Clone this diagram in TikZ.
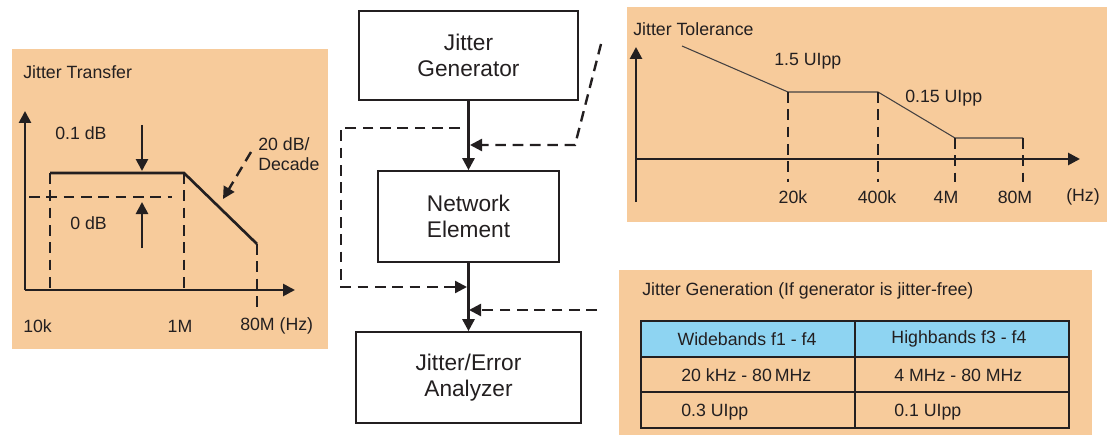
\documentclass[tikz,border=0pt]{standalone}
\usepackage{fontspec}
\setmainfont{Liberation Sans}
\usetikzlibrary{arrows.meta}
\definecolor{panel}{HTML}{F7CB9B}
\definecolor{hdr}{HTML}{8ED4F2}
\definecolor{ink}{HTML}{231F20}
\begin{document}
\begin{tikzpicture}[x=0.75pt,y=-0.75pt,
  tip/.style={-{Triangle[length=9pt,width=9pt]}},
  axis/.style={draw=ink,line width=2pt,tip},
  thk/.style={draw=ink,line width=2pt},
  thn/.style={draw=ink!85,line width=0.8pt},
  dashline/.style={draw=ink,line width=1.8pt,dash pattern=on 8pt off 5pt},
  lbl/.style={font=\fontsize{13.3}{15}\selectfont,inner sep=0pt,text=ink},
  block/.style={draw=ink,line width=1.5pt,fill=white,align=center,
    font=\fontsize{17}{19}\selectfont,text=ink,inner sep=0pt},
  cell/.style={draw=ink,line width=1pt}]
\useasboundingbox (0,0) rectangle (1111,435);

% panel backgrounds
\fill[panel] (12,49) rectangle (328,349);
\fill[panel] (627,7) rectangle (1107,222);
\fill[panel] (619,270) rectangle (1092,435);

% ---------- Jitter transfer ----------
\node[lbl,anchor=west] (jtt) at (23,72) {Jitter Transfer};
\draw[axis] (25,290) -- (25,111);
\draw[axis] (25,290) -- (295,290);
\draw[dashline] (29,197) -- (172,197);
\draw[dashline] (50,173) -- (50,290);
\draw[dashline] (184,173) -- (184,290);
\draw[dashline] (257,244) -- (257,309);
\draw[thk] (50,173) -- (184,173) -- (257,244);
\draw[thk,tip] (142,125) -- (142,171);
\draw[thk,tip] (142,248) -- (142,202);
\draw[dashline,tip] (251,152) -- (223,199);
\node[lbl,anchor=west] (l01) at (55,133) {0.1 dB};
\node[lbl,anchor=west] (l0) at (70,223) {0 dB};
\node[lbl,anchor=west] (l20) at (258,144) {20 dB/};
\node[lbl,anchor=west] (ldec) at (258,164) {Decade};
\node[lbl,anchor=west] (t10k) at (23,326) {10k};
\node[lbl] (t1m) at (180,326) {1M};
\node[lbl,anchor=west] (t80m) at (240,326) {80M (Hz)};

% ---------- Test chain ----------
\node[block,minimum width=164pt,minimum height=67pt] (gen) at (468.5,55.5) {Jitter\\Generator};
\node[block,minimum width=136pt,minimum height=68pt] (ne) at (468.5,216.5) {Network\\Element};
\node[block,minimum width=169pt,minimum height=68pt] (ana) at (468.5,377.5) {Jitter/Error\\Analyzer};
\draw[thk,tip] (gen.south) -- (ne.north);
\draw[thk,tip] (ne.south) -- (ana.north);

\coordinate (tapA) at (460,128);
\coordinate (joinA) at (467,287);
\coordinate (inB0) at (601,44);
\coordinate (inB1) at (575,145);
\coordinate (joinB) at (470,145);
\coordinate (inC) at (597,310);
\coordinate (joinC) at (469,310);
\draw[dashline,tip] (tapA) -- (341,128) |- (joinA);
\draw[dashline,tip] (inB0) -- (inB1) -- (joinB);
\draw[dashline,tip] (inC) -- (joinC);

% ---------- Jitter tolerance ----------
\node[lbl,anchor=west] (jtol) at (633,29) {Jitter Tolerance};
\draw[axis] (636,202) -- (636,47);
\draw[axis] (636,159) -- (1080,159);
\draw[thn] (682,46) -- (788,92) -- (878,92) -- (955,138) -- (1023,138);
\draw[dashline] (788,92) -- (788,182);
\draw[dashline] (878,92) -- (878,182);
\draw[dashline] (955,138) -- (955,182);
\draw[dashline] (1023,138) -- (1023,182);
\node[lbl,anchor=west] (u15) at (774,61) {1.5 UIpp};
\node[lbl,anchor=west] (u015) at (905,98) {0.15 UIpp};
\node[lbl] (t20k) at (793,197) {20k};
\node[lbl] (t400k) at (877,197) {400k};
\node[lbl] (t4m) at (946,197) {4M};
\node[lbl] (t80mb) at (1015,197) {80M};
\node[lbl] (thz) at (1083,197) {(Hz)};

% ---------- Jitter generation table ----------
\node[lbl,anchor=west] (jgen) at (642,291) {Jitter Generation (If generator is jitter-free)};
\fill[hdr] (641,321) rectangle (1069,357);
\draw[cell] (641,321) rectangle (1069,428);
\draw[cell] (641,357) -- (1069,357);
\draw[cell] (641,392) -- (1069,392);
\draw[cell] (855,321) -- (855,428);
\node[lbl] (h1) at (747,339) {Widebands f1 - f4};
\node[lbl] (h2) at (959,339) {Highbands f3 - f4};
\node[lbl,anchor=west] (r1a) at (681,375) {20 kHz - 80\,MHz};
\node[lbl,anchor=west] (r1b) at (894,375) {4 MHz - 80 MHz};
\node[lbl,anchor=west] (r2a) at (681,412) {0.3 UIpp};
\node[lbl,anchor=west] (r2b) at (894,412) {0.1 UIpp};
\end{tikzpicture}
\end{document}
